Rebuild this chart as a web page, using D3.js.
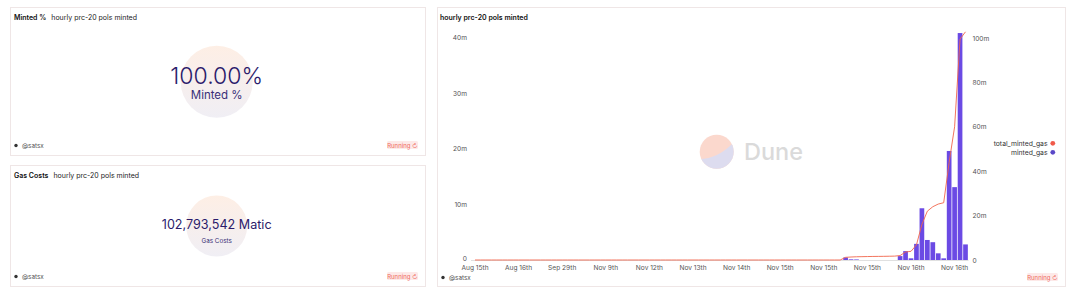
<!DOCTYPE html>
<html>
<head>
<meta charset="utf-8">
<script src="https://cdn.jsdelivr.net/npm/d3@7"></script>
<style>
  body { margin: 0; background: #fff; }
  text { font-family: Inter, "Noto Sans", sans-serif; }
</style>
</head>
<body>
<div id="chart"></div>
<script>
// x tick labels, one every 8 hourly rows
var tickLabels = ["Aug 15th", "Aug 16th", "Sep 29th", "Nov 9th", "Nov 12th", "Nov 13th",
  "Nov 14th", "Nov 15th", "Nov 15th", "Nov 15th", "Nov 16th", "Nov 16th"];

// minted_gas per hour, millions (left axis)
var minted = [
  0, 0, 0, 0, 0, 0, 0, 0, 0, 0, 0, 0, 0, 0, 0, 0,
  0, 0, 0, 0, 0, 0, 0, 0, 0, 0, 0, 0, 0, 0, 0, 0,
  0, 0, 0, 0, 0, 0, 0, 0, 0, 0, 0, 0, 0, 0, 0, 0,
  0, 0, 0, 0, 0, 0, 0, 0, 0, 0, 0, 0, 0, 0, 0, 0,
  0, 0, 0, 0, 0.45, 0.12, 0.1, 0, 0, 0, 0, 0, 0, 0,
  0.7, 1.6, 0.3, 2.9, 9.3, 3.6, 3.2, 1.2, 0.3, 19.6, 13.1, 40.8, 2.8
];

// total_minted_gas, millions (right axis)
var total = [
  0, 0, 0, 0, 0, 0, 0, 0, 0, 0, 0, 0, 0, 0, 0, 0,
  0, 0, 0, 0, 0, 0, 0, 0, 0, 0, 0, 0, 0, 0, 0, 0,
  0, 0, 0, 0, 0, 0, 0, 0, 0, 0, 0, 0, 0, 0, 0, 0,
  0, 0, 0, 0, 0, 0, 0, 0, 0, 0, 0, 0, 0, 0, 0, 0,
  0, 0, 0, 0, 1.2, 1.35, 1.45, 1.5, 1.55, 1.6, 1.62, 1.65, 1.7, 1.75,
  2.0, 3.6, 3.9, 6.8, 16.0, 22.0, 24.0, 25.2, 25.8, 44.0, 60.0, 99.5, 102.79
];

var leftTicks = [0, 10, 20, 30, 40];
var rightTicks = [0, 20, 40, 60, 80, 100];

var counterTitles = ["Minted %", "Gas Costs"];
var counterValues = ["100.00%", d3.format(",")(102793542) + " Matic"];
var queryName = "hourly prc-20 pols minted";
var author = "@satsx";

var width = 1077, height = 295;
var purple = "#6b4ae4", red = "#f1654c";

var svg = d3.select("#chart").append("svg")
  .attr("width", width).attr("height", height);

var defs = svg.append("defs");
var grad = defs.append("linearGradient").attr("id", "glow")
  .attr("x1", 0).attr("y1", 0).attr("x2", 0).attr("y2", 1);
grad.append("stop").attr("offset", "0%").attr("stop-color", "#fde9dc");
grad.append("stop").attr("offset", "100%").attr("stop-color", "#ebe9f1");

function footer(g, x, y, w) {
  g.append("circle").attr("cx", x + 6).attr("cy", y - 2).attr("r", 1.7).attr("fill", "#333");
  g.append("text").attr("x", x + 12).attr("y", y).attr("font-size", 6.3)
    .attr("fill", "#555").text(author);
  g.append("rect").attr("x", x + w - 38).attr("y", y - 6.5).attr("width", 31).attr("height", 8)
    .attr("rx", 1.5).attr("fill", "#fde9e8");
  g.append("text").attr("x", x + w - 22.5).attr("y", y).attr("text-anchor", "middle")
    .attr("font-size", 6).attr("fill", "#ef6a5c").text("Running ↻");
}

// counter panels
var panels = [
  { y: 7, h: 148, cy: 81.7, r: 36, big: 23, bigW: 300, bigY: 75.5, sub: 11.5, subY: 95 },
  { y: 165, h: 121, cy: 226, r: 30.5, big: 12.6, bigW: 400, bigY: 224.3, sub: 6.3, subY: 241 }
];
panels.forEach(function(p, i) {
  var g = svg.append("g");
  g.append("rect").attr("x", 10.5).attr("y", p.y + 0.5).attr("width", 415).attr("height", p.h)
    .attr("fill", "#fff").attr("stroke", "#efe6e6");
  g.append("text").attr("x", 14).attr("y", p.y + 12.5).attr("font-size", 7)
    .attr("font-weight", 600).attr("fill", "#111").text(counterTitles[i])
    .append("tspan").attr("dx", 5).attr("font-weight", 400).attr("fill", "#222").text(queryName);
  g.append("circle").attr("cx", 216.7).attr("cy", p.cy).attr("r", p.r)
    .attr("fill", "url(#glow)").attr("opacity", 0.75);
  g.append("text").attr("x", 216.7).attr("y", p.bigY).attr("dy", "0.36em")
    .attr("text-anchor", "middle").attr("font-size", p.big).attr("font-weight", p.bigW)
    .attr("fill", "#2b1b6b").text(counterValues[i]);
  g.append("text").attr("x", 216.7).attr("y", p.subY).attr("dy", "0.36em")
    .attr("text-anchor", "middle").attr("font-size", p.sub).attr("fill", "#3a2f78")
    .text(counterTitles[i]);
  footer(g, 10, p.y + p.h - 7.5, 415);
});

// chart panel
var cg = svg.append("g");
cg.append("rect").attr("x", 437.5).attr("y", 7.5).attr("width", 628).attr("height", 279)
  .attr("fill", "#fff").attr("stroke", "#efe6e6");
cg.append("text").attr("x", 440).attr("y", 19.5).attr("font-size", 7)
  .attr("font-weight", 600).attr("fill", "#111").text(queryName);
footer(cg, 437, 279.5, 628);

// Dune watermark
var wm = cg.append("g").attr("opacity", 0.55);
defs.append("clipPath").attr("id", "logoClip").append("circle")
  .attr("cx", 716.7).attr("cy", 151.7).attr("r", 17);
wm.append("circle").attr("cx", 716.7).attr("cy", 151.7).attr("r", 17).attr("fill", "#f9b9a6");
wm.append("path").attr("clip-path", "url(#logoClip)")
  .attr("d", "M697,159 Q718,160 735,141 L736,172 L697,172 Z").attr("fill", "#c3c1e2");
wm.append("text").attr("x", 744).attr("y", 160).attr("font-size", 23.5)
  .attr("font-weight", 500).attr("fill", "#bdbdbd").text("Dune");

var x = d3.scaleBand().domain(d3.range(minted.length)).range([472, 968.5])
  .paddingInner(0.14).paddingOuter(0.12);
var yL = d3.scaleLinear().domain([0, 40]).range([260, 37.5]);
var yR = d3.scaleLinear().domain([0, 100]).range([260, 38]);
var fmt = function(d) { return d === 0 ? "0" : d + "m"; };

var axL = cg.append("g").attr("transform", "translate(472,0)")
  .call(d3.axisLeft(yL).tickValues(leftTicks).tickFormat(fmt).tickSize(0).tickPadding(5));
var axR = cg.append("g").attr("transform", "translate(968.5,0)")
  .call(d3.axisRight(yR).tickValues(rightTicks).tickFormat(fmt).tickSize(0).tickPadding(4));
var axB = cg.append("g").attr("transform", "translate(0,260)")
  .call(d3.axisBottom(x).tickValues(d3.range(0, minted.length, 8))
    .tickFormat(function(i) { return tickLabels[i / 8]; }).tickSize(0).tickPadding(5));
[axL, axR, axB].forEach(function(a) {
  a.select(".domain").remove();
  a.selectAll("text").attr("font-size", 6.6).attr("fill", "#555")
    .style("font-family", "Inter, 'Noto Sans', sans-serif");
});
axL.selectAll("text").filter(function(d) { return d === 0; }).attr("dy", "0.1em");

cg.append("line").attr("x1", 471).attr("x2", 968.5).attr("y1", 260.5).attr("y2", 260.5)
  .attr("stroke", "#d8d8d8").attr("stroke-width", 0.8);

cg.append("g").selectAll("rect").data(minted).enter().append("rect")
  .attr("x", function(d, i) { return x(i); })
  .attr("width", x.bandwidth())
  .attr("y", function(d) { return yL(d); })
  .attr("height", function(d) { return 260 - yL(d); })
  .attr("fill", purple);

var line = d3.line()
  .x(function(d, i) { return x(i) + x.bandwidth() / 2; })
  .y(function(d) { return yR(d); });
cg.append("path").datum(total).attr("d", line)
  .attr("fill", "none").attr("stroke", red).attr("stroke-width", 0.9);

// legend
var legend = [{ name: "total_minted_gas", color: "#f05a4a" }, { name: "minted_gas", color: "#5a48c8" }];
var lg = cg.append("g").selectAll("g").data(legend).enter().append("g")
  .attr("transform", function(d, i) { return "translate(1047.5," + (143.3 + i * 9) + ")"; });
lg.append("text").attr("text-anchor", "end").attr("dy", "0.35em").attr("font-size", 6.8)
  .attr("fill", "#333").text(function(d) { return d.name; });
lg.append("circle").attr("cx", 5.3).attr("r", 2.4).attr("fill", function(d) { return d.color; });
</script>
</body>
</html>
